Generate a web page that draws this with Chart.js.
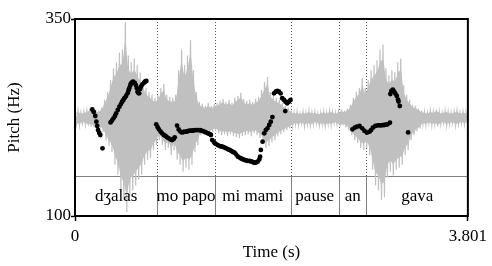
<!DOCTYPE html>
<html>
<head>
<meta charset="utf-8">
<script src="https://cdn.jsdelivr.net/npm/chart.js@4/dist/chart.umd.min.js"></script>
<style>
html,body{margin:0;padding:0;background:#fff;}
#c{display:block;}
</style>
</head>
<body>
<canvas id="c" width="492" height="266"></canvas>
<script>
// ---- Data ----
const xTicks = [0, 3.801];
const yTicks = [100, 350];
const timeMax = 3.801;

// Text tier
const tierBounds = [0.796, 1.353, 2.085, 2.553, 2.820];
const tierLabels = ["dʒalas", "mo papo", "mi mami", "pause", "an", "gava"];

// Pitch points (time in s, F0 in Hz)
const pitchT = [
  0.167,0.181,0.196,0.207,0.215,0.223,0.234,0.245,0.266,
  0.344,0.358,0.372,0.387,0.398,0.414,0.430,0.444,0.456,0.468,0.478,0.494,0.509,0.518,0.525,0.535,0.542,0.554,0.563,0.578,0.589,0.597,0.605,0.613,0.621,0.630,0.637,0.652,0.669,0.680,0.690,
  0.786,0.799,0.812,0.828,0.843,0.860,0.876,0.891,0.907,0.924,0.939,0.955,0.965,
  0.987,1.003,1.019,1.034,1.051,1.067,1.082,1.098,1.115,1.130,1.146,1.162,1.178,1.194,1.210,1.225,1.242,1.258,1.273,1.289,1.306,1.315,1.327,1.342,1.353,1.369,1.385,1.401,1.416,1.432,1.449,1.464,1.480,1.496,1.512,1.528,1.544,1.560,1.576,1.592,1.607,1.623,1.640,1.655,1.671,1.688,1.703,1.719,1.735,1.751,1.767,1.783,1.791,1.798,1.815,1.831,1.846,1.862,1.879,1.894,1.910,
  1.926,1.942,1.958,1.974,1.989,2.005,2.022,2.037,2.053,2.070,2.085,2.034,
  2.684,2.706,2.728,2.753,2.779,2.801,2.824,2.849,2.865,2.881,2.906,2.929,2.945,2.961,2.977,2.992,3.008,3.025,3.047,
  3.051,3.061,3.075,3.088,3.099,3.113,3.125,3.130,3.142,
  3.223
];
const pitchF = [
  235.2,232.0,226.9,219.7,214.2,209.1,205.3,202.8,185.9,
  218.7,221.2,224.0,226.9,230.3,234.5,238.7,242.1,245.0,247.2,249.4,252.3,255.7,259.3,262.1,265.6,268.4,270.0,270.4,268.8,266.2,262.4,257.7,256.1,255.7,261.2,264.1,266.9,269.2,270.7,271.3,
  216.4,212.9,210.0,207.2,204.9,202.8,201.5,199.9,198.6,197.1,196.4,197.7,199.9,
  214.8,209.8,207.2,206.0,206.6,207.2,207.0,207.9,208.3,208.3,208.5,209.1,209.1,209.1,208.8,208.3,207.5,206.6,205.7,204.7,203.7,202.8,196.4,194.5,192.3,191.0,189.7,188.8,188.2,187.6,186.7,185.7,184.6,183.8,182.5,181.2,180.3,178.0,175.3,174.2,173.0,172.0,171.1,170.4,170.0,169.8,169.2,168.5,167.6,167.9,168.9,171.7,175.3,183.8,194.3,204.9,209.1,211.3,215.5,219.7,225.6,
  255.7,257.7,258.6,257.7,255.7,249.4,247.2,245.0,243.0,245.0,247.2,233.2,
  210.0,212.1,213.3,214.2,211.3,207.9,205.7,207.0,209.1,212.1,214.2,215.1,215.1,215.1,215.2,215.5,215.9,216.4,218.4,
  254.8,258.6,260.5,257.7,255.4,252.3,247.8,245.3,239.6,
  206.0
];

// Waveform envelope (normalised amplitude), one pair per sample every 0.02865 s
const wavStep = 0.02865;
const wavTop = [
  0.06,0.07,0.05,0.06,0.07,0.09,0.10,0.08,0.07,
  0.10,0.18,0.26,0.38,0.50,0.56,0.66,0.69,0.97,0.63,0.56,0.60,0.53,0.46,0.38,0.30,0.26,0.23,
  0.20,0.23,0.30,0.34,0.23,0.21,0.20,0.23,0.48,0.69,0.53,0.63,0.79,0.48,0.26,
  0.16,0.14,0.12,0.15,0.12,0.14,0.15,0.17,0.19,0.16,0.18,0.15,0.20,0.22,0.25,0.19,0.17,0.18,0.16,0.19,0.21,0.28,0.36,0.41,0.26,0.23,0.20,0.18,0.15,0.12,0.10,0.07,
  0.05,0.06,0.04,0.06,0.05,0.07,0.05,0.06,0.04,0.05,0.06,0.05,0.07,0.06,0.05,0.06,0.08,0.07,0.09,
  0.13,0.20,0.26,0.30,0.40,0.30,0.38,0.48,0.53,0.58,0.69,0.74,0.50,0.43,0.48,0.46,0.56,0.60,0.33,0.23,0.18,0.13,0.12,0.09,
  0.07,0.06,0.05,0.07,0.06,0.08,0.06,0.05,0.07,0.06,0.05,0.06,0.07,0.05,0.06,0.05
];
const wavBot = [
  -0.07,-0.08,-0.06,-0.07,-0.08,-0.09,-0.10,-0.09,-0.11,
  -0.15,-0.23,-0.29,-0.35,-0.48,-0.58,-0.74,-0.84,-0.96,-0.79,-0.74,-0.69,-0.63,-0.58,-0.48,-0.43,-0.41,-0.33,
  -0.28,-0.23,-0.28,-0.33,-0.31,-0.38,-0.33,-0.43,-0.48,-0.55,-0.51,-0.53,-0.48,-0.35,-0.28,
  -0.18,-0.16,-0.15,-0.17,-0.15,-0.14,-0.16,-0.18,-0.17,-0.19,-0.17,-0.19,-0.20,-0.21,-0.19,-0.18,-0.17,-0.19,-0.16,-0.18,-0.21,-0.25,-0.31,-0.29,-0.25,-0.23,-0.19,-0.17,-0.15,-0.13,-0.11,-0.09,
  -0.07,-0.08,-0.06,-0.09,-0.07,-0.08,-0.07,-0.06,-0.08,-0.07,-0.09,-0.07,-0.08,-0.06,-0.07,-0.09,-0.08,-0.10,-0.13,
  -0.18,-0.23,-0.26,-0.31,-0.33,-0.31,-0.38,-0.53,-0.69,-0.74,-0.84,-0.81,-0.61,-0.55,-0.59,-0.53,-0.51,-0.48,-0.38,-0.33,-0.23,-0.18,-0.14,-0.11,
  -0.07,-0.08,-0.06,-0.08,-0.07,-0.09,-0.07,-0.06,-0.08,-0.07,-0.06,-0.08,-0.07,-0.06,-0.07,-0.07
];

// ---- Build library data ----
const wavZig = [];
for (let k = 0; k < wavTop.length; k++) {
  wavZig.push({x: k * wavStep, y: wavTop[k]});
  wavZig.push({x: k * wavStep + wavStep / 2, y: wavBot[k]});
}
const wavTopData = wavTop.map((v, k) => ({x: k * wavStep, y: v * 0.8}));
const wavBotData = wavBot.map((v, k) => ({x: k * wavStep + wavStep / 2, y: v * 0.8}));
const pitchData = pitchT.map((t, i) => ({x: t, y: pitchF[i]}));

const FONT = '"Liberation Serif", "Times New Roman", serif';
Chart.defaults.font.family = FONT;
Chart.defaults.color = '#000';

const TIER_H = 40;
const WAVE = '#c0c0c0';

const tierPlugin = {
  id: 'tier',
  beforeDatasetsDraw(chart) {
    const {ctx, chartArea: a, scales: {x}} = chart;
    const tierTop = a.bottom - TIER_H;
    ctx.save();
    ctx.lineWidth = 1;
    tierBounds.forEach(b => {
      const px = Math.round(x.getPixelForValue(b)) + 0.5;
      ctx.strokeStyle = '#555';
      ctx.setLineDash([1, 2]);
      ctx.beginPath(); ctx.moveTo(px, a.top); ctx.lineTo(px, tierTop); ctx.stroke();
      ctx.setLineDash([]);
      ctx.strokeStyle = '#808080';
      ctx.beginPath(); ctx.moveTo(px, tierTop); ctx.lineTo(px, a.bottom); ctx.stroke();
    });
    ctx.strokeStyle = '#808080';
    ctx.beginPath(); ctx.moveTo(a.left, tierTop + 0.5); ctx.lineTo(a.right, tierTop + 0.5); ctx.stroke();
    ctx.restore();
  },
  afterDatasetsDraw(chart) {
    const {ctx, chartArea: a, scales: {x}} = chart;
    const tierTop = a.bottom - TIER_H;
    const edges = [0, ...tierBounds, timeMax];
    ctx.save();
    ctx.fillStyle = '#000';
    ctx.font = '17px ' + FONT;
    ctx.textAlign = 'center';
    ctx.textBaseline = 'middle';
    tierLabels.forEach((lab, i) => {
      const cx = (x.getPixelForValue(edges[i]) + x.getPixelForValue(edges[i + 1])) / 2;
      ctx.fillText(lab, cx, (tierTop + a.bottom) / 2 + 1);
    });
    ctx.strokeStyle = '#000';
    ctx.lineWidth = 2;
    ctx.strokeRect(a.left, a.top, a.right - a.left, a.bottom - a.top);
    ctx.restore();
  }
};

new Chart(document.getElementById('c'), {
  type: 'scatter',
  data: {
    datasets: [
      {
        type: 'scatter',
        data: pitchData,
        yAxisID: 'y',
        pointRadius: 2.4,
        pointBackgroundColor: '#000',
        pointBorderWidth: 0,
        order: 1
      },
      {
        type: 'line',
        data: wavZig,
        yAxisID: 'amp',
        borderColor: WAVE,
        borderWidth: 1.2,
        pointRadius: 0,
        tension: 0,
        fill: false,
        order: 2
      },
      {
        type: 'line',
        data: wavTopData,
        yAxisID: 'amp',
        borderWidth: 0,
        borderColor: 'rgba(0,0,0,0)',
        backgroundColor: WAVE,
        pointRadius: 0,
        tension: 0.3,
        fill: '+1',
        order: 3
      },
      {
        type: 'line',
        data: wavBotData,
        yAxisID: 'amp',
        borderWidth: 0,
        borderColor: 'rgba(0,0,0,0)',
        pointRadius: 0,
        tension: 0.3,
        fill: false,
        order: 3
      }
    ]
  },
  options: {
    responsive: false,
    animation: false,
    events: [],
    layout: {padding: {top: 19, right: 19, left: 0, bottom: 0}},
    plugins: {legend: {display: false}, tooltip: {enabled: false}},
    scales: {
      x: {
        type: 'linear', min: 0, max: timeMax,
        afterBuildTicks: s => { s.ticks = xTicks.map(v => ({value: v})); },
        afterFit: s => { s.height = 50; },
        ticks: {callback: v => String(v), font: {size: 17}, color: '#000', padding: 5, maxRotation: 0, autoSkip: false},
        grid: {display: true, drawOnChartArea: false, drawTicks: true, tickLength: 5, tickColor: '#000', tickWidth: 1.5},
        border: {display: true, color: '#000', width: 2},
        title: {display: true, text: 'Time (s)', font: {size: 17}, color: '#000', padding: {top: 0, bottom: 3}}
      },
      y: {
        type: 'linear', min: 100, max: 350,
        afterBuildTicks: s => { s.ticks = yTicks.map(v => ({value: v})); },
        afterFit: s => { s.width = 75; },
        ticks: {callback: v => String(v), font: {size: 17}, color: '#000', padding: 0, autoSkip: false},
        grid: {display: true, drawOnChartArea: false, drawTicks: true, tickLength: 4, tickColor: '#000', tickWidth: 1.5},
        border: {display: true, color: '#000', width: 2},
        title: {display: true, text: 'Pitch (Hz)', font: {size: 17}, color: '#000', padding: {top: 4, bottom: 0}}
      },
      amp: {type: 'linear', display: false, min: -1, max: 1}
    }
  },
  plugins: [tierPlugin]
});
</script>
</body>
</html>
